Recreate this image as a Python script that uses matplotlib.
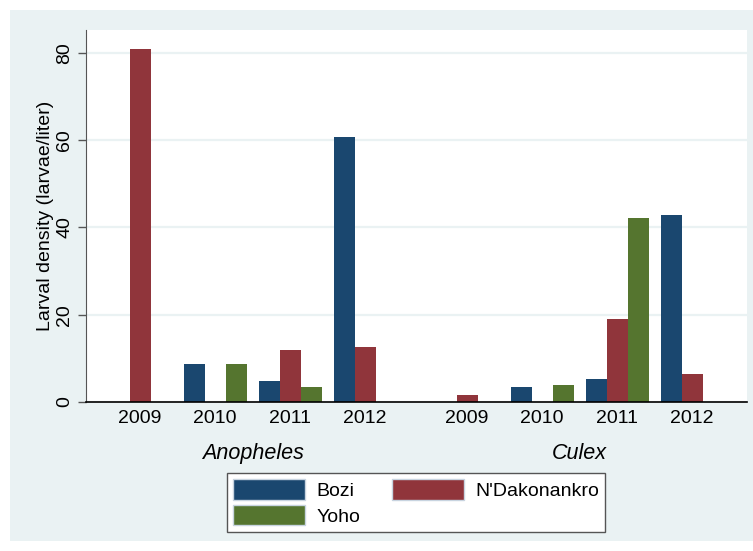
import matplotlib.pyplot as plt
from matplotlib.patches import Rectangle, Patch
import numpy as np

plt.rcParams['font.family'] = ['Liberation Sans', 'DejaVu Sans']

# data
anos = ["2009", "2010", "2011", "2012"]
especies = ["Anopheles", "Culex"]
locais = ["Bozi", "N'Dakonankro", "Yoho"]
cores = ["#1A476F", "#90353B", "#55752F"]

# None = no bar
anopheles_bozi = [None, 8.7, 4.9, 60.8]
anopheles_ndak = [80.9, None, 11.8, 12.7]
anopheles_yoho = [None, 8.7, 3.5, None]
culex_bozi = [None, 3.5, 5.2, 42.9]
culex_ndak = [1.5, None, 19.0, 6.4]
culex_yoho = [None, 4.0, 42.2, None]

valores = {
    "Anopheles": [anopheles_bozi, anopheles_ndak, anopheles_yoho],
    "Culex": [culex_bozi, culex_ndak, culex_yoho],
}

W, H = 753, 551
fig = plt.figure(figsize=(W / 100, H / 100), dpi=100)
fig.patch.set_facecolor("white")
fig.patches.append(Rectangle((10 / W, 10 / H), (W - 10) / W, (H - 20) / H,
                             transform=fig.transFigure, facecolor="#EAF2F3",
                             edgecolor="none", zorder=-5))

ax = fig.add_axes([86 / W, (H - 402) / H, (747 - 86) / W, (402 - 30) / H])
ax.set_facecolor("white")
ax.set_zorder(1)

largura = 0.28
deslocamento_especie = [0, 4.36]
centros = []
for k, esp in enumerate(especies):
    base = np.arange(len(anos)) + deslocamento_especie[k]
    centros.extend(base)
    for j, serie in enumerate(valores[esp]):
        for i, v in enumerate(serie):
            if v is None:
                continue
            ax.bar(base[i] + (j - 1) * largura, v, width=largura,
                   color=cores[j], edgecolor="none", zorder=3)
    ax.annotate(esp, xy=(base.mean(), 0), xycoords=("data", "axes fraction"),
                xytext=(0, -37), textcoords="offset points",
                ha="center", va="center", fontsize=15.5, style="italic")

ax.set_xlim(-0.72, 8.09)
ax.set_ylim(0, 85.2)
ax.set_xticks(centros)
ax.set_xticklabels(anos * 2, fontsize=14)
ax.tick_params(axis="x", length=0, pad=6)

ax.set_yticks([0, 20, 40, 60, 80])
ax.set_yticklabels(["0", "20", "40", "60", "80"], fontsize=14,
                   rotation=90, va="center")
ax.tick_params(axis="y", length=6, width=1, color="#555555", pad=3)
ax.grid(axis="y", color="#EAF2F3", linewidth=1.6, zorder=1)
ax.set_axisbelow(True)

ax.set_ylabel("Larval density (larvae/liter)", fontsize=14, labelpad=2)

for s in ["top", "right"]:
    ax.spines[s].set_visible(False)
ax.spines["left"].set_color("#555555")
ax.spines["bottom"].set_color("black")
ax.spines["bottom"].set_linewidth(1.2)
ax.spines["bottom"].set_zorder(4)

handles = [Patch(facecolor=cores[0], edgecolor="#c8d4e0"),
           Patch(facecolor=cores[2], edgecolor="#c8d4e0"),
           Patch(facecolor=cores[1], edgecolor="#c8d4e0")]
rotulos = [locais[0], locais[2], locais[1]]
leg = fig.legend(handles, rotulos, ncol=2, loc="center",
                 bbox_to_anchor=(416 / W, (H - 502.5) / H),
                 fontsize=14, handlelength=3.7, handleheight=1.25,
                 handletextpad=0.6, columnspacing=1.6, labelspacing=0.25,
                 fancybox=False, framealpha=1, borderpad=0.3)
leg.get_frame().set_edgecolor("#555555")
leg.get_frame().set_linewidth(1.0)

fig.savefig("out.png", dpi=100)
